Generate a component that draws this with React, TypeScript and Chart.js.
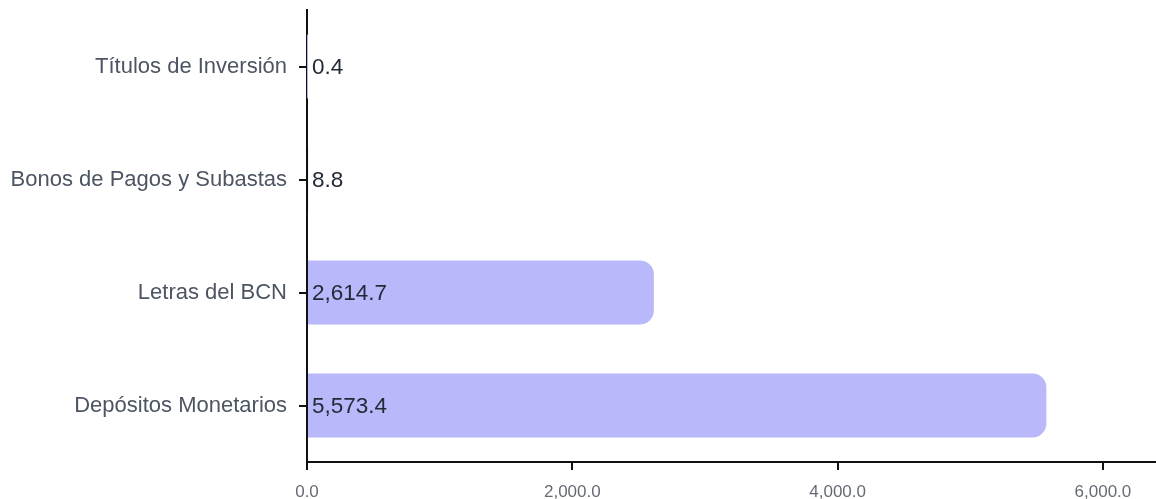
import React, { useEffect, useRef } from "react";
import { Chart, registerables } from "chart.js";

Chart.register(...registerables);

const categories = [
  "Títulos de Inversión",
  "Bonos de Pagos y Subastas",
  "Letras del BCN",
  "Depósitos Monetarios",
];
const values = [0.4, 8.8, 2614.7, 5573.4];
const xTickValues = [0, 2000, 4000, 6000];
const xMax = 6400;

const fmt = (v: number) =>
  v.toLocaleString("en-US", { minimumFractionDigits: 1, maximumFractionDigits: 1 });

const FONT = "'Liberation Sans', Arial, sans-serif";

const valueLabels = {
  id: "valueLabels",
  afterDatasetsDraw(chart: any) {
    const ctx = chart.ctx;
    const meta = chart.getDatasetMeta(0);
    const xScale = chart.scales.x;
    const x0 = xScale.getPixelForValue(0);
    ctx.save();
    ctx.font = `22.5px ${FONT}`;
    ctx.fillStyle = "#232a36";
    ctx.textAlign = "left";
    ctx.textBaseline = "middle";
    meta.data.forEach((bar: any, i: number) => {
      ctx.fillText(fmt(values[i]), x0 + 5, bar.y + 1.5);
    });
    ctx.restore();
  },
};

export default function App() {
  const ref = useRef<HTMLCanvasElement | null>(null);
  useEffect(() => {
    if (!ref.current) return;
    const chart = new Chart(ref.current, {
      type: "bar",
      data: {
        labels: categories,
        datasets: [
          {
            data: values,
            backgroundColor: "rgb(184,184,251)",
            borderWidth: 0,
            borderRadius: 14,
            borderSkipped: "start",
            barPercentage: 0.566,
            categoryPercentage: 1,
          },
        ],
      },
      options: {
        indexAxis: "y",
        animation: false,
        responsive: true,
        maintainAspectRatio: false,
        layout: { padding: { top: 10, left: 0, right: 0, bottom: 0 } },
        plugins: {
          legend: { display: false },
          tooltip: { enabled: false },
        },
        scales: {
          x: {
            min: 0,
            max: xMax,
            afterBuildTicks: (scale: any) => {
              scale.ticks = xTickValues.map((v) => ({ value: v }));
            },
            afterFit: (scale: any) => {
              scale.height = 37;
              scale.paddingLeft = 0;
              scale.paddingRight = 0;
            },
            grid: {
              drawOnChartArea: false,
              drawTicks: true,
              tickLength: 8,
              color: "#111",
              lineWidth: 2,
            },
            border: { display: true, color: "#111", width: 2 },
            ticks: {
              padding: 12,
              color: "#666b73",
              font: { family: FONT, size: 17 },
              maxRotation: 0,
              callback: (v: any) => fmt(Number(v)),
            },
          },
          y: {
            afterFit: (scale: any) => {
              scale.width = 307;
              scale.paddingTop = 0;
              scale.paddingBottom = 0;
            },
            grid: {
              offset: false,
              drawOnChartArea: false,
              drawTicks: true,
              tickLength: 8,
              color: "#111",
              lineWidth: 2,
            },
            border: { display: true, color: "#111", width: 2 },
            ticks: {
              padding: 12,
              color: "#4d5563",
              font: { family: FONT, size: 22 },
            },
          },
        },
      },
      plugins: [valueLabels],
    });
    return () => chart.destroy();
  }, []);
  return (
    <div style={{ position: "fixed", left: 0, top: 0, width: 1156, height: 499 }}>
      <canvas ref={ref} />
    </div>
  );
}
